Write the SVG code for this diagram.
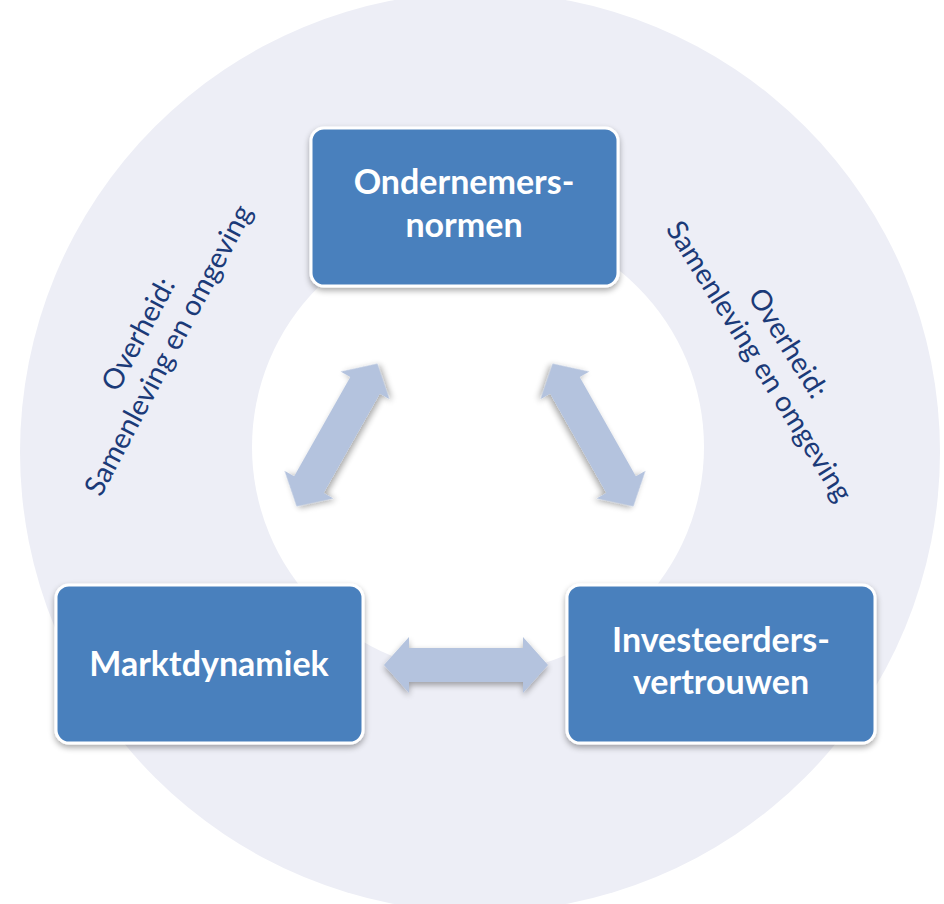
<svg xmlns="http://www.w3.org/2000/svg" width="944" height="904" viewBox="0 0 944 904">
<defs>
<filter id="sh" x="-20%" y="-20%" width="140%" height="140%">
<feGaussianBlur in="SourceAlpha" stdDeviation="3"/>
<feOffset dx="0" dy="3" result="b"/>
<feComponentTransfer><feFuncA type="linear" slope="0.35"/></feComponentTransfer>
<feMerge><feMergeNode/><feMergeNode in="SourceGraphic"/></feMerge>
</filter>
<path id="dbl" d="M-82,0 L-57,-28 L-57,-17 L57,-17 L57,-28 L82,0 L57,28 L57,17 L-57,17 L-57,28 Z"/>
</defs>
<style>
.box{fill:#4A80BD;stroke:#ffffff;stroke-width:3;filter:url(#sh)}
.lbl{font-family:Lato,"Open Sans","Liberation Sans",sans-serif;font-weight:bold;font-size:34px;fill:#ffffff;text-anchor:middle}
.side{font-family:Lato,"Open Sans","Liberation Sans",sans-serif;font-size:28.5px;fill:#1B3A78;text-anchor:middle}
.arr{fill:#B4C3DE;filter:url(#sh)}
</style>
<rect width="944" height="904" fill="#ffffff"/>
<g id="ring">
<circle cx="480" cy="452" r="460" fill="#EDEEF6"/>
<circle cx="478" cy="447" r="226" fill="#ffffff"/>
</g>
<g id="labels-side">
<text class="side" transform="translate(153,342) rotate(-62)"><tspan x="0" y="-7">Overheid:</tspan><tspan x="0" y="27">Samenleving en omgeving</tspan></text>
<text class="side" transform="translate(774,352) rotate(58)"><tspan x="0" y="-7">Overheid:</tspan><tspan x="0" y="27">Samenleving en omgeving</tspan></text>
</g>
<g id="connectors">
<use href="#dbl" class="arr" transform="translate(466,665)"/>
<use href="#dbl" class="arr" transform="translate(337,435) rotate(-60.5)"/>
<use href="#dbl" class="arr" transform="translate(593,435) rotate(60.5)"/>
</g>
<g id="node-ondernemers">
<rect class="box" x="311" y="128" width="307" height="158" rx="13"/>
<text class="lbl"><tspan x="464" y="194">Ondernemers-</tspan><tspan x="464" y="237">normen</tspan></text>
</g>
<g id="node-markt">
<rect class="box" x="56" y="585" width="307" height="158" rx="13"/>
<text class="lbl" x="209" y="676">Marktdynamiek</text>
</g>
<g id="node-investeerders">
<rect class="box" x="567" y="585" width="308" height="158" rx="13"/>
<text class="lbl"><tspan x="721" y="652">Investeerders-</tspan><tspan x="721" y="694">vertrouwen</tspan></text>
</g>
</svg>
